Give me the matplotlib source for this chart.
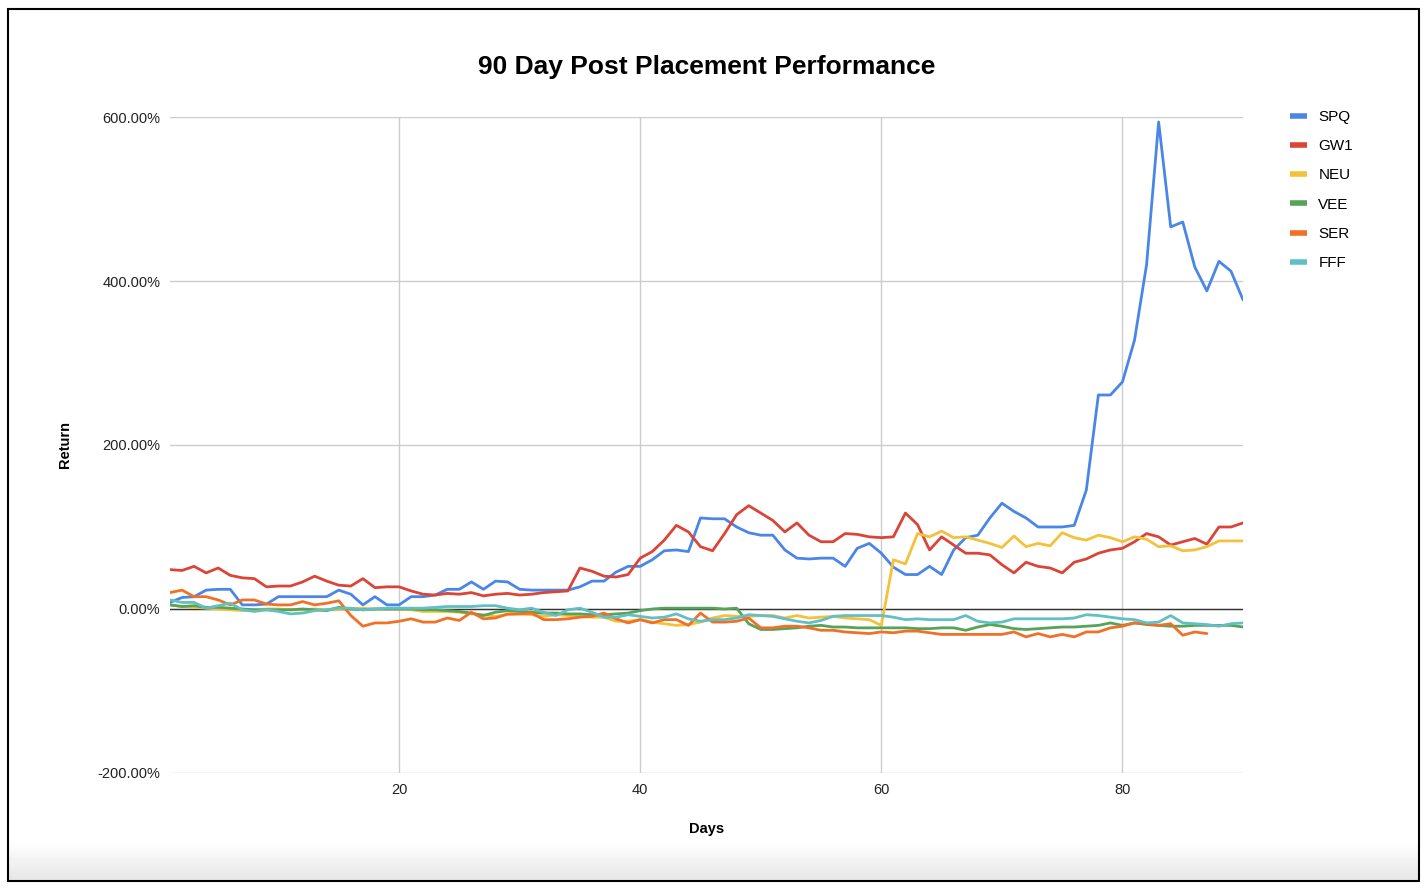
import matplotlib
matplotlib.use("Agg")
import matplotlib.pyplot as plt
import matplotlib.patches as mpatches
import numpy as np
from matplotlib.ticker import FuncFormatter

plt.rcParams["font.family"] = ["Liberation Sans", "DejaVu Sans"]

# data: daily return (%) for 90 days after placement
days = list(range(1, 91))

spq = [8, 14, 15, 23, 24, 24, 5, 5, 6, 15, 15, 15, 15, 15, 23, 18, 5, 15, 5, 5,
       15, 15, 17, 24, 24, 33, 24, 34, 33, 24, 23, 23, 23, 23, 27, 34, 34, 45, 52, 52,
       60, 71, 72, 70, 111, 110, 110, 100, 93, 90, 90, 72, 62, 61, 62, 62, 52, 74, 80, 68,
       51, 42, 42, 52, 42, 72, 87, 90, 111, 129, 119, 111, 100, 100, 100, 102, 145, 261, 261, 277,
       328, 420, 594, 466, 472, 417, 388, 424, 412, 377]
gw1 = [48, 47, 52, 44, 50, 41, 38, 37, 27, 28, 28, 33, 40, 34, 29, 28, 37, 26, 27, 27,
       22, 18, 17, 19, 18, 20, 16, 18, 19, 17, 18, 20, 21, 22, 50, 46, 40, 39, 42, 62,
       70, 84, 102, 94, 76, 71, 92, 115, 126, 117, 108, 94, 105, 90, 82, 82, 92, 91, 88, 87,
       88, 117, 103, 72, 88, 78, 68, 68, 66, 54, 44, 57, 52, 50, 44, 57, 61, 68, 72, 74,
       82, 92, 88, 78, 82, 86, 79, 100, 100, 105]
neu = [5, 3, 2, 1, 0, -1, -2, -1, 0, 0, -1, -1, 0, -1, -1, 0, 1, 0, 0, 0,
       -1, -3, -3, -3, -4, -6, -7, -9, -7, -6, -7, -9, -7, -8, -9, -10, -10, -15, -15, -13,
       -16, -18, -20, -19, -16, -11, -8, -9, -9, -8, -8, -11, -8, -11, -10, -9, -11, -12, -13, -20,
       60, 55, 92, 88, 95, 87, 88, 84, 80, 75, 89, 76, 80, 77, 93, 87, 84, 90, 87, 82,
       88, 85, 76, 77, 71, 72, 76, 83, 83, 83]
vee = [5, 3, 4, 2, 2, 1, 0, -1, -1, -1, -1, 0, -1, -2, 2, 0, -1, 0, 0, 0,
       0, -1, -1, -2, -3, -5, -8, -4, -2, -3, -4, -5, -5, -6, -6, -7, -7, -6, -5, -2,
       0, 1, 1, 1, 1, 1, 0, 1, -18, -25, -25, -24, -23, -21, -20, -22, -22, -23, -23, -23,
       -23, -23, -24, -24, -23, -23, -26, -22, -19, -21, -24, -25, -24, -23, -22, -22, -21, -20, -17, -20,
       -17, -19, -20, -21, -21, -20, -20, -20, -20, -22]
ser = [20, 23, 15, 15, 11, 5, 11, 11, 6, 5, 5, 9, 5, 7, 10, -8, -21, -17, -17, -15,
       -12, -16, -16, -11, -14, -4, -12, -11, -6, -6, -5, -13, -13, -12, -10, -9, -5, -12, -17, -13,
       -17, -13, -13, -20, -5, -16, -16, -15, -11, -23, -23, -21, -21, -23, -26, -26, -28, -29, -30, -28,
       -29, -27, -27, -29, -31, -31, -31, -31, -31, -31, -28, -34, -30, -34, -31, -34, -28, -28, -23, -21,
       -17, -18, -20, -18, -32, -28, -30, np.nan, np.nan, np.nan]
fff = [11, 8, 8, 1, 4, 7, -1, -3, -1, -3, -6, -5, -2, -1, 1, 1, -1, 0, 1, 1,
       1, 1, 2, 3, 3, 3, 4, 4, 1, -1, 1, -4, -8, -1, 1, -4, -10, -10, -7, -9,
       -11, -10, -6, -12, -15, -13, -13, -11, -7, -8, -9, -12, -15, -17, -14, -9, -8, -8, -8, -8,
       -10, -13, -12, -13, -13, -13, -8, -15, -17, -16, -12, -12, -12, -12, -12, -11, -7, -8, -10, -12,
       -13, -17, -16, -8, -17, -18, -19, -21, -18, -17]

names = ["SPQ", "GW1", "NEU", "VEE", "SER", "FFF"]
series = [spq, gw1, neu, vee, ser, fff]
colors = ["#4A86E8", "#DB4437", "#F3C13A", "#56A35A", "#F07028", "#62BFC4"]

fig = plt.figure(figsize=(14.26, 8.9), dpi=100)

# faint grey shade along the bottom of the screenshot
shade = fig.add_axes([9 / 1426, 9 / 890, 1409 / 1426, 40 / 890], zorder=-5)
shade.imshow(np.linspace(0.90, 1.0, 40).reshape(-1, 1), cmap="gray", vmin=0, vmax=1,
             aspect="auto", origin="lower")
shade.axis("off")

ax = fig.add_axes([0.1192, 0.1315, 0.7525, 0.737])

for name, vals, col in zip(names, series, colors):
    ax.plot(days, vals, color=col, lw=2.0, label=name,
            solid_joinstyle="round", solid_capstyle="round", zorder=3)

ax.axhline(0, color="#333333", lw=1.0, zorder=2)

ax.set_xlim(1, 90)
ax.set_ylim(-200, 600)
ax.set_xticks([20, 40, 60, 80])
ax.set_yticks([-200, 0, 200, 400, 600])
ax.yaxis.set_major_formatter(FuncFormatter(lambda v, p: f"{v:.2f}%"))
ax.grid(True, color="#cccccc", lw=1.0, zorder=0)
ax.tick_params(length=0, labelsize=10.5, colors="#222222", pad=7)
for s in ax.spines.values():
    s.set_visible(False)

ax.set_title("90 Day Post Placement Performance", fontsize=19, fontweight="bold",
             pad=31)
ax.set_xlabel("Days", fontsize=10.5, fontweight="bold", labelpad=18)
ax.set_ylabel("Return", fontsize=10.5, fontweight="bold", labelpad=18)

ax.legend(loc="upper left", bbox_to_anchor=(0.895, 0.892),
          bbox_transform=fig.transFigure, frameon=False, fontsize=11,
          handlelength=1.1, handletextpad=0.75, labelspacing=1.0)
leg = ax.get_legend()
for h in leg.get_lines():
    h.set_linewidth(4)
    h.set_solid_capstyle("butt")

# screenshot frame
fig.patches.append(mpatches.Rectangle((8 / 1426, 9 / 890), 1411 / 1426, 872 / 890,
                                      transform=fig.transFigure, fill=False,
                                      edgecolor="black", lw=1.5))

fig.savefig("out.png", dpi=100)
